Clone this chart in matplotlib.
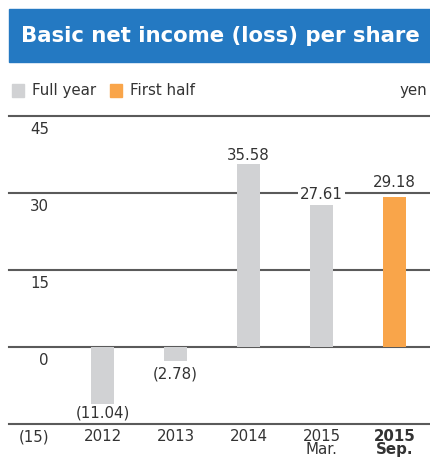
import matplotlib.pyplot as plt

categories = ["2012", "2013", "2014", "2015\nMar.", "2015\nSep."]
values = [-11.04, -2.78, 35.58, 27.61, 29.18]
value_labels = ["(11.04)", "(2.78)", "35.58", "27.61", "29.18"]
kinds = ["full", "full", "full", "full", "half"]
grid_vals = [45, 30, 15, 0, -15]
grid_labels = ["45", "30", "15", "0", "(15)"]

GRAY = "#D1D2D4"
ORANGE = "#F9A54A"
BLUE = "#2479C2"
TXT = "#333333"

plt.rcParams['font.family'] = ['DejaVu Sans']

fig = plt.figure(figsize=(4.3, 4.57), dpi=100)

# title band
fig.patches.append(plt.Rectangle((9 / 430, 1 - 62 / 457), 421 / 430, 53 / 457,
                                 transform=fig.transFigure, color=BLUE, zorder=0))
fig.text(220 / 430, 1 - 36 / 457, "Basic net income (loss) per share", color="white",
         fontsize=15.3, fontweight="bold", ha="center", va="center")

# legend
for x0, col, lab in [(12, GRAY, "Full year"), (110, ORANGE, "First half")]:
    fig.patches.append(plt.Rectangle((x0 / 430, 1 - 97 / 457), 12 / 430, 13 / 457,
                                     transform=fig.transFigure, color=col))
    fig.text((x0 + 20) / 430, 1 - 90.5 / 457, lab, color=TXT, fontsize=10.8, va="center")
fig.text(427 / 430, 1 - 90.5 / 457, "yen", color=TXT, fontsize=10.8, va="center", ha="right")

ax = fig.add_axes([9 / 430, 1 - 424 / 457, 421 / 430, 308 / 457])
ax.set_xlim(-1.281, 4.486)
ax.set_ylim(-15, 45)
ax.axis("off")

for g, gl in zip(grid_vals, grid_labels):
    ax.axhline(g, color="#5a5a5a", lw=1.5, zorder=1, clip_on=False)
    ax.annotate(gl, xy=(40 / 421, g), xycoords=("axes fraction", "data"),
                xytext=(0, -4), textcoords="offset points", ha="right", va="top",
                color=TXT, fontsize=10.8)

xs = list(range(len(categories)))
cols = [GRAY if k == "full" else ORANGE for k in kinds]
ax.bar(xs, values, width=0.315, color=cols, zorder=2)

# labels that sit on a gridline get a white box to break the line
offsets = [-1, -4, 1, 2, 5]
boxed = [False, False, False, True, False]
for x, v, lab, off, bx in zip(xs, values, value_labels, offsets, boxed):
    ax.annotate(lab, xy=(x, v), xytext=(0, off), textcoords="offset points",
                ha="center", va="bottom" if v > 0 else "top", color=TXT, fontsize=10.8,
                bbox=dict(boxstyle="square,pad=0.15", fc="white", ec="none") if bx else None,
                zorder=3)

for x, c in zip(xs, categories):
    bold = c.endswith("Sep.")
    ax.annotate(c, xy=(x, -15), xytext=(0, -3.5), textcoords="offset points",
                ha="center", va="top", color=TXT, fontsize=10.8, linespacing=0.85,
                fontweight="bold" if bold else "normal", annotation_clip=False)

fig.savefig("out.png", dpi=100)
